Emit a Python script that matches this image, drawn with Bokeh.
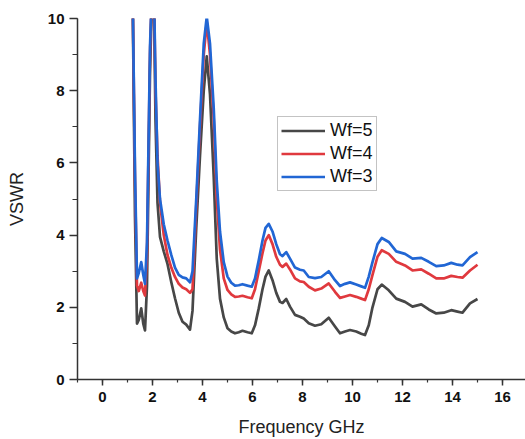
from bokeh.plotting import figure
from bokeh.models import Range1d, SingleIntervalTicker, Legend, LegendItem
from bokeh.embed import file_html
from bokeh.resources import INLINE

freq = [1.0, 1.2, 1.3, 1.38, 1.45, 1.55, 1.63, 1.7, 1.78, 1.9, 2.03, 2.12, 2.2, 2.3, 2.45,
        2.6, 2.75, 2.9, 3.05, 3.2, 3.35, 3.5, 3.6, 3.75, 3.9, 4.05, 4.17, 4.3, 4.45, 4.57,
        4.7, 4.85, 5.0, 5.15, 5.3, 5.45, 5.6, 5.8, 5.97, 6.1, 6.25, 6.4, 6.52, 6.65, 6.8,
        6.95, 7.1, 7.2, 7.35, 7.5, 7.7, 7.9, 8.05, 8.25, 8.5, 8.75, 9.05, 9.3, 9.5, 9.7,
        9.9, 10.15, 10.35, 10.5, 10.65, 10.8, 11.0, 11.17, 11.45, 11.75, 12.1, 12.4, 12.75,
        13.05, 13.35, 13.65, 13.95, 14.2, 14.4, 14.7, 15.0]

vswr_wf5 = [25, 11, 4.5, 1.55, 1.65, 1.97, 1.55, 1.36, 2.6, 8.5, 12, 7.2, 4.9, 3.95, 3.55,
            3.2, 2.7, 2.25, 1.85, 1.6, 1.52, 1.38, 1.9, 4.2, 6.2, 8.0, 8.95, 7.9, 5.6, 3.35,
            2.24, 1.72, 1.42, 1.33, 1.28, 1.31, 1.35, 1.31, 1.28, 1.5, 1.97, 2.5, 2.85, 3.02, 2.75,
            2.4, 2.15, 2.12, 2.23, 2.02, 1.79, 1.74, 1.69, 1.56, 1.49, 1.53, 1.71, 1.47, 1.28, 1.33,
            1.37, 1.33, 1.27, 1.23, 1.5, 2.0, 2.5, 2.63, 2.47, 2.24, 2.15, 2.02, 2.08,
            1.94, 1.83, 1.85, 1.92, 1.88, 1.85, 2.11, 2.23]

vswr_wf4 = [25, 11, 5.5, 2.6, 2.45, 2.68, 2.45, 2.33, 3.5, 9.0, 12, 8.0, 6.2, 4.9, 4.0,
            3.45, 3.1, 2.84, 2.65, 2.55, 2.5, 2.4, 2.5, 4.8, 7.0, 9.0, 9.9, 9.0, 7.2, 5.0,
            3.6, 2.8, 2.48, 2.36, 2.29, 2.3, 2.32, 2.28, 2.25, 2.5, 3.0, 3.5, 3.85, 4.0, 3.75,
            3.4, 3.18, 3.12, 3.21, 3.05, 2.8, 2.72, 2.70, 2.57, 2.47, 2.52, 2.66, 2.43, 2.26, 2.3,
            2.34, 2.29, 2.24, 2.2, 2.5, 2.9, 3.4, 3.58, 3.48, 3.26, 3.16, 3.02, 3.05,
            2.93, 2.8, 2.8, 2.87, 2.84, 2.82, 3.02, 3.18]

vswr_wf3 = [25, 11, 5.8, 2.8, 2.95, 3.25, 2.9, 2.65, 3.8, 9.2, 12, 8.3, 6.0, 5.0, 4.3,
            3.85, 3.45, 3.1, 2.9, 2.83, 2.8, 2.69, 3.0, 5.0, 7.2, 9.3, 10.05, 9.3, 7.5, 5.5,
            4.1, 3.25, 2.85, 2.68, 2.6, 2.61, 2.64, 2.6, 2.57, 2.8, 3.3, 3.85, 4.2, 4.31, 4.1,
            3.75, 3.47, 3.42, 3.53, 3.35, 3.1, 3.04, 3.02, 2.84, 2.81, 2.84, 3.0, 2.75, 2.59, 2.65,
            2.69, 2.63, 2.58, 2.54, 2.85, 3.25, 3.75, 3.92, 3.81, 3.55, 3.48, 3.35, 3.37,
            3.26, 3.14, 3.16, 3.23, 3.18, 3.16, 3.39, 3.53]

series_labels = ["Wf=5", "Wf=4", "Wf=3"]
colors = ["#474747", "#e0393e", "#2166d4"]

p = figure(width=525, height=439, output_backend="svg", toolbar_location=None,
           x_range=Range1d(-1, 16.92), y_range=Range1d(0, 10),
           min_border_left=77, min_border_top=18, min_border_bottom=0, min_border_right=0,
           background_fill_color="white", border_fill_color="white")
p.outline_line_color = None
p.xgrid.visible = False
p.ygrid.visible = False

renderers = []
for vals, col in zip([vswr_wf5, vswr_wf4, vswr_wf3], colors):
    r = p.line(freq, vals, line_color=col, line_width=2.7, line_join="round")
    renderers.append(r)

p.xaxis.ticker = SingleIntervalTicker(interval=2, num_minor_ticks=2)
p.yaxis.ticker = SingleIntervalTicker(interval=2, num_minor_ticks=2)

for ax in (p.xaxis[0], p.yaxis[0]):
    ax.axis_line_color = "#333333"
    ax.axis_line_width = 1.5
    ax.major_tick_line_color = "#333333"
    ax.minor_tick_line_color = "#333333"
    ax.major_tick_line_width = 1.5
    ax.minor_tick_line_width = 1.2
    ax.major_tick_in = 0
    ax.minor_tick_in = 0
    ax.major_label_text_font = "Liberation Sans"
    ax.major_label_text_font_style = "bold"
    ax.major_label_text_font_size = "15px"
    ax.major_label_text_color = "#111111"
    ax.axis_label_text_font = "Liberation Sans"
    ax.axis_label_text_font_style = "normal"
    ax.axis_label_text_font_size = "18px"
    ax.axis_label_text_color = "#222222"

p.xaxis.major_tick_out = 6
p.xaxis.minor_tick_out = 3
p.yaxis.major_tick_out = 8
p.yaxis.minor_tick_out = 5
p.xaxis.major_label_standoff = 6
p.yaxis.major_label_standoff = 5
p.xaxis.axis_label = "Frequency GHz"
p.yaxis.axis_label = "VSWR"
p.xaxis.axis_label_standoff = 12
p.yaxis.axis_label_standoff = 18

legend = Legend(items=[LegendItem(label=lab, renderers=[r]) for lab, r in zip(series_labels, renderers)],
                location=(200, 188))
legend.label_text_font = "Liberation Sans"
legend.label_text_font_size = "18px"
legend.label_text_color = "#111111"
legend.glyph_width = 44
legend.glyph_height = 21
legend.label_height = 21
legend.label_standoff = 5
legend.spacing = 2
legend.padding = 3
legend.margin = 0
legend.border_line_color = "#888888"
legend.border_line_width = 1.2
legend.background_fill_alpha = 1.0
p.add_layout(legend, "center")

open("out.html", "w").write(file_html(p, INLINE))
